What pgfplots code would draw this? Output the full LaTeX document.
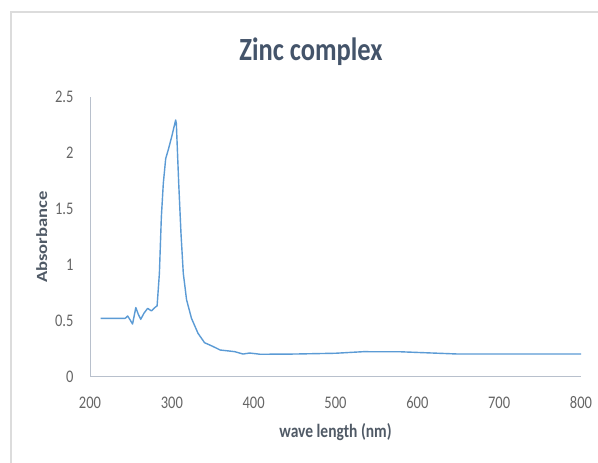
\documentclass[border=0pt]{standalone}
\usepackage{pgfplots}
\pgfplotsset{compat=1.18}
\usepackage{fontspec}
\setmainfont{Carlito}
\definecolor{linec}{HTML}{5B9BD5}
\definecolor{titlec}{HTML}{44546A}
\definecolor{tickc}{HTML}{666666}
\definecolor{labc}{HTML}{505A66}
\definecolor{axc}{HTML}{B8C0CC}
\definecolor{framec}{HTML}{DCDCDC}
\newcommand{\sq}[1]{\scalebox{1}[1.22]{#1}}
\begin{document}
\begin{tikzpicture}
\useasboundingbox[fill=white] (0pt,0pt) rectangle (598pt,463pt);
\draw[framec,line width=1.5pt] (11pt,0pt) -- (11pt,451pt) -- (598pt,451pt);
\begin{axis}[
  at={(90pt,86pt)}, anchor=south west,
  scale only axis, width=491pt, height=280pt,
  xmin=200, xmax=800, ymin=0, ymax=2.5,
  xtick={200,300,...,800}, ytick={0,0.5,...,2.5},
  xticklabels={\sq{200},\sq{300},\sq{400},\sq{500},\sq{600},\sq{700},\sq{800}},
  yticklabels={\sq{0},\sq{0.5},\sq{1},\sq{1.5},\sq{2},\sq{2.5}},
  axis x line*=bottom, axis y line*=left,
  axis line style={axc, line width=1pt, -},
  major tick length=0pt,
  tick label style={font=\fontsize{14.5}{14.5}\selectfont, text=tickc},
  yticklabel style={xshift=-13pt},
  xticklabel style={yshift=-16pt},
  title={\sq{\textbf{Zinc complex}}},
  title style={font=\fontsize{26.5}{26.5}\selectfont, text=titlec, at={(0.45,1)}, yshift=22pt},
  xlabel={\sq{\textbf{wave length (nm)}}},
  ylabel={\scalebox{1.2}[1]{\textbf{Absorbance}}},
  label style={font=\fontsize{15.5}{15.5}\selectfont, text=labc},
  xlabel style={yshift=-8pt},
  ylabel style={yshift=1pt},
]
\addplot[linec, line width=1.4pt, line join=round] coordinates {
(213,0.524) (243,0.524) (246,0.545) (249,0.51) (252,0.473) (256,0.62)
(259,0.56) (262,0.515) (266,0.57) (270.5,0.613) (275,0.59) (280.5,0.628)
(282,0.635) (284.8,0.926) (287.2,1.43) (289.6,1.73) (292.5,1.95) (295.7,2.03)
(300,2.15) (304.7,2.295) (305.5,2.265) (308.4,1.73) (311.2,1.28) (314,0.926)
(318,0.69) (324,0.524) (332,0.39) (340,0.306) (345,0.29) (351,0.27)
(359,0.241) (370,0.232) (377,0.226) (387,0.205) (395,0.214) (400,0.21)
(408,0.203) (450,0.205) (500,0.212) (534,0.226) (580,0.225) (650,0.205)
(700,0.205) (800,0.205)
};
\end{axis}
\end{tikzpicture}
\end{document}
